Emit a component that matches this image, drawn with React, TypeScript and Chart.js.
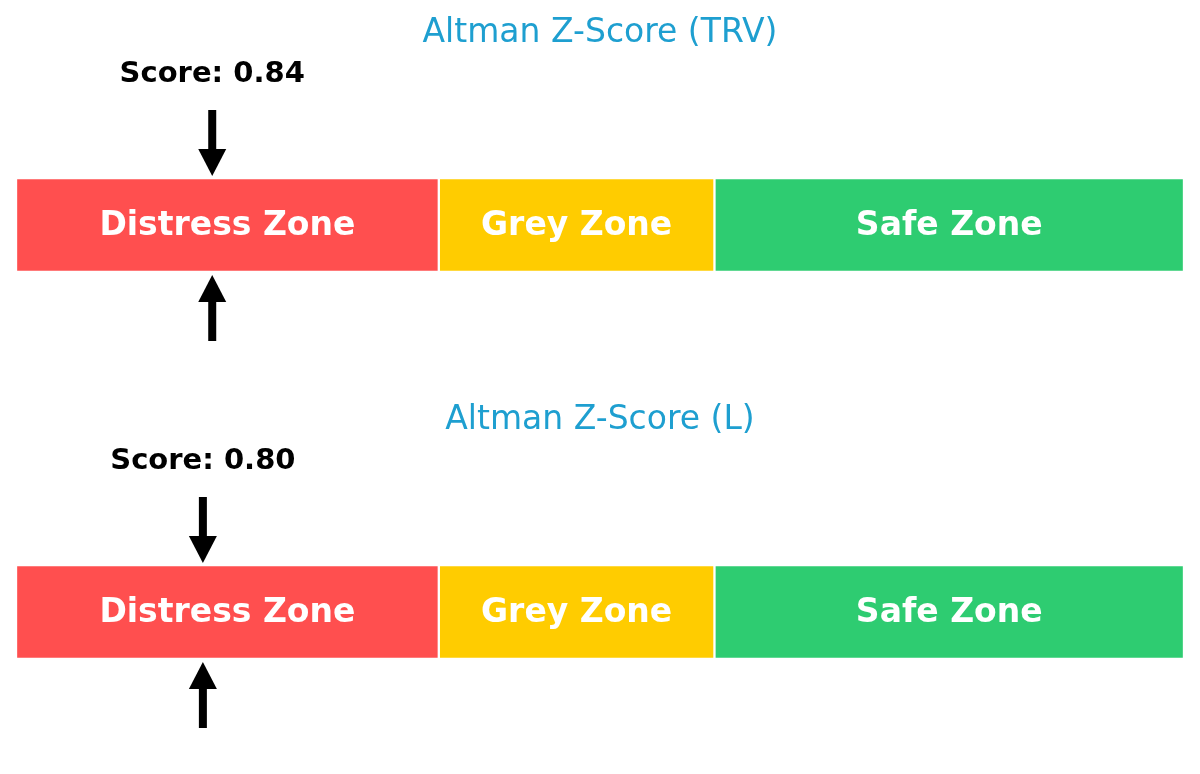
import { useEffect, useRef } from "react";
import { Chart, registerables } from "chart.js";

Chart.register(...registerables);

// zone thresholds on the Z-score axis
const zoneNames = ["Distress Zone", "Grey Zone", "Safe Zone"];
const zoneEdges = [0, 1.81, 2.99, 5.0];
const zoneColors = ["#ff4f4f", "#ffcc00", "#2ecc71"];

const tickers = ["TRV", "L"];
const scores = [0.84, 0.8];

const FONT = "'DejaVu Sans', Verdana, sans-serif";

function ZoneChart({ ticker, score }: { ticker: string; score: number }) {
  const canvasRef = useRef<HTMLCanvasElement>(null);
  const chartRef = useRef<Chart | null>(null);

  useEffect(() => {
    if (!canvasRef.current) return;
    const ctx = canvasRef.current.getContext("2d");
    if (!ctx) return;

    const overlay = {
      id: "zoneOverlay",
      afterDatasetsDraw(chart: Chart) {
        const c = chart.ctx;
        const area = chart.chartArea;
        const xs = chart.scales.x;
        c.save();

        // zone labels
        c.fillStyle = "#ffffff";
        c.font = `bold 33px ${FONT}`;
        c.textAlign = "center";
        c.textBaseline = "alphabetic";
        chart.data.datasets.forEach((ds, i) => {
          const el: any = chart.getDatasetMeta(i).data[0];
          if (!el) return;
          const cx = (el.x + el.base) / 2;
          c.fillText(ds.label as string, cx, area.top + 57);
        });

        // title
        c.fillStyle = "#1e9fd0";
        c.font = `33px ${FONT}`;
        c.fillText(`Altman Z-Score (${ticker})`, chart.width / 2, 42);

        // score marker
        const sx = xs.getPixelForValue(score);
        c.fillStyle = "#000000";
        c.font = `bold 29px ${FONT}`;
        c.fillText(`Score: ${score.toFixed(2)}`, sx, 82);

        const shaft = 4;
        const head = 14;
        const headLen = 27;
        // down arrow
        const tipTop = area.top - 2;
        c.beginPath();
        c.rect(sx - shaft, 110, shaft * 2, tipTop - headLen - 110 + 1);
        c.fill();
        c.beginPath();
        c.moveTo(sx - head, tipTop - headLen);
        c.lineTo(sx + head, tipTop - headLen);
        c.lineTo(sx, tipTop);
        c.closePath();
        c.fill();
        // up arrow
        const tipBot = area.bottom + 3;
        c.beginPath();
        c.moveTo(sx - head, tipBot + headLen);
        c.lineTo(sx + head, tipBot + headLen);
        c.lineTo(sx, tipBot);
        c.closePath();
        c.fill();
        c.beginPath();
        c.rect(sx - shaft, tipBot + headLen - 1, shaft * 2, 341 - (tipBot + headLen) + 1);
        c.fill();

        c.restore();
      },
    };

    chartRef.current?.destroy();
    chartRef.current = new Chart(ctx, {
      type: "bar",
      data: {
        labels: [ticker],
        datasets: zoneNames.map((name, i) => ({
          label: name,
          data: [zoneEdges[i + 1] - zoneEdges[i]],
          backgroundColor: zoneColors[i],
          borderColor: "#ffffff",
          borderWidth: 1.5,
          borderSkipped: false,
          barPercentage: 1,
          categoryPercentage: 1,
        })),
      },
      options: {
        indexAxis: "y",
        responsive: false,
        animation: false,
        events: [],
        layout: { padding: { left: 16, right: 16, top: 178, bottom: 115 } },
        plugins: { legend: { display: false }, tooltip: { enabled: false }, title: { display: false } },
        scales: {
          x: { stacked: true, min: zoneEdges[0], max: zoneEdges[zoneEdges.length - 1], display: false },
          y: { stacked: true, display: false },
        },
      },
      plugins: [overlay],
    });

    return () => chartRef.current?.destroy();
  }, [ticker, score]);

  return <canvas ref={canvasRef} width={1200} height={387} style={{ display: "block", width: 1200, height: 387 }} />;
}

export default function App() {
  useEffect(() => {
    document.body.style.margin = "0";
    document.body.style.background = "#ffffff";
  }, []);
  return (
    <div style={{ width: 1200, height: 774, background: "#ffffff" }}>
      {tickers.map((t, i) => (
        <ZoneChart key={t} ticker={t} score={scores[i]} />
      ))}
    </div>
  );
}
